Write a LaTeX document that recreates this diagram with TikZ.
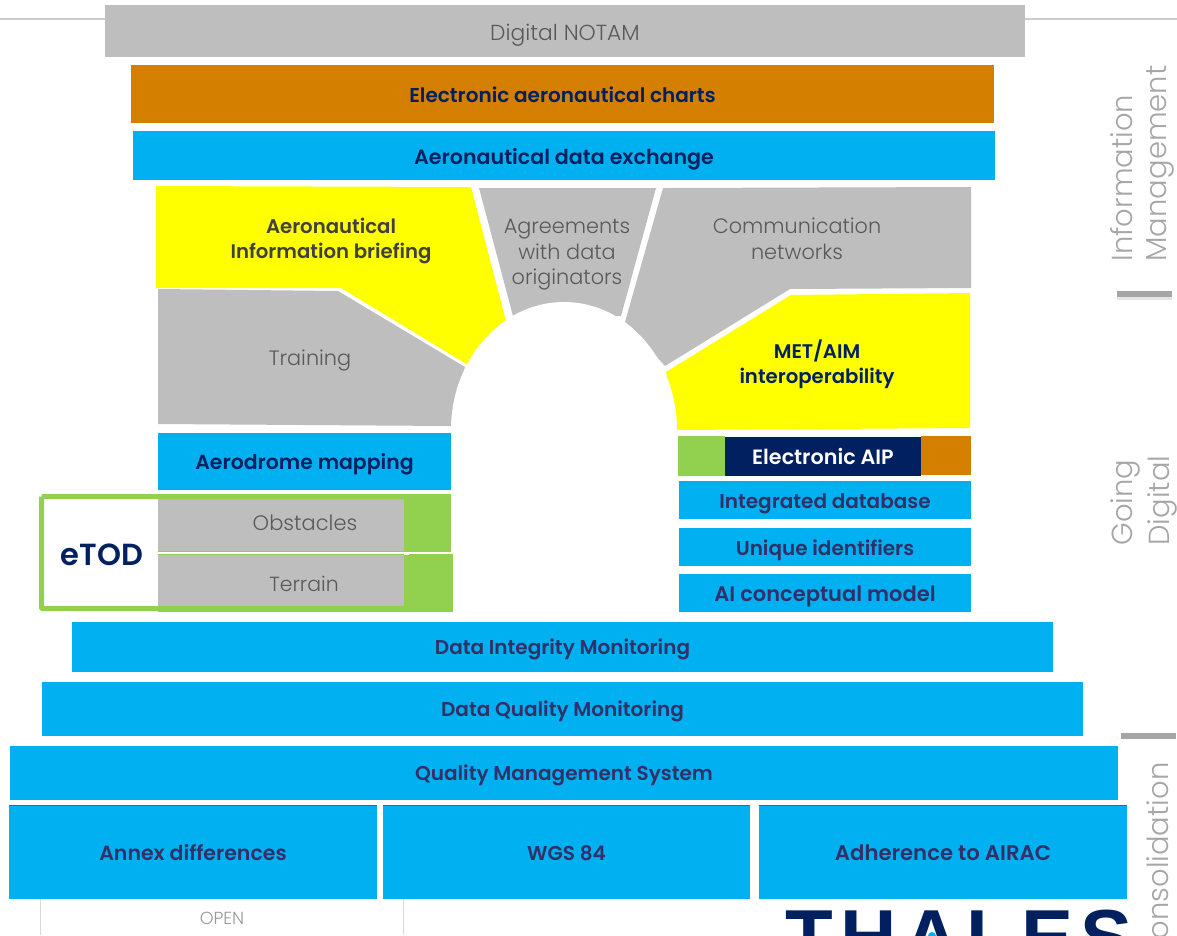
\documentclass[tikz,border=0pt]{standalone}
\usepackage{fontspec}
\setmainfont{Poppins}[UprightFont={* Light},BoldFont={* SemiBold}]
\newfontfamily\logofont{Liberation Sans}[Scale=1]
\definecolor{cblue}{HTML}{00B0F0}
\definecolor{corange}{HTML}{D57F00}
\definecolor{cgrey}{HTML}{BEBEBE}
\definecolor{cyel}{HTML}{FFFF00}
\definecolor{cgreen}{HTML}{92D050}
\definecolor{cnavy}{HTML}{002060}
\definecolor{cpurple}{HTML}{323068}
\definecolor{ctext}{HTML}{595959}
\definecolor{cdark}{HTML}{404040}
\definecolor{cside}{HTML}{A6A6A6}
\newcommand\fs[1]{\fontsize{#1}{#1}\selectfont}
\newcommand\dn[2]{\raisebox{0pt}[\dimexpr\height+#1pt+#1pt\relax]{#2}}
\tikzset{
  box/.style={inner sep=0pt,outer sep=0pt,align=center,anchor=center},
  greybox/.style={fill=cgrey,text=ctext,font=\fs{20}},
  bluebox/.style={fill=cblue,text=cpurple,font=\fs{20}\bfseries},
  navybox/.style={fill=cblue,text=cnavy,font=\fs{20}\bfseries},
  greenbox/.style={fill=cgreen},
  greylabel/.style={text=ctext,align=center,font=\fontsize{20.8}{25.5}\selectfont},
  boldlabel/.style={align=center,font=\fontsize{19.7}{25}\selectfont\bfseries},
  sidelabel/.style={text=cside,rotate=90,anchor=west,font=\fs{29}},
  sidebar/.style={fill=cside},
  sideshadow/.style={fill=black!10},
  rule/.style={draw=black!15,line width=1pt},
  topedge/.style={draw=cpurple!80,line width=0.8pt}
}
\newcommand\bx[7]{\pgfmathsetmacro\bw{#5-#3}\pgfmathsetmacro\bh{#6-#4}%
  \node[box,#2,minimum width=\bw pt,minimum height=\bh pt] (#1) at ({(#3+#5)/2},{(#4+#6)/2}) {#7};}
\begin{document}
\begin{tikzpicture}[x=1pt,y=-1pt]
\useasboundingbox (0,0) rectangle (1177,935);
\clip (0,0) rectangle (1177,935);
\fill[white] (0,0) rectangle (1177,935);
% top rules
\draw[black!20,line width=1.5pt] (0,19) -- (1177,19);
\bx{notam}{greybox,font=\fs{21.8}}{105}{5}{1025}{57}{\dn{4}{Digital NOTAM}}
\bx{charts}{navybox,fill=corange}{131}{65}{994}{123}{\dn{1}{Electronic aeronautical charts}}
\bx{exchange}{navybox,font=\fs{20.6}\bfseries}{133}{131}{995}{180}{\dn{4}{Aeronautical data exchange}}
% arch pieces
\fill[cyel] (156,186) -- (471,187) -- (506,321) -- (468,365) -- (341,288) -- (156,288) -- cycle;
\fill[cgrey] (158,289) -- (338,291) -- (465,367) -- (451,426) -- (158,424) -- cycle;
\fill[cgrey] (479,188) -- (656,188) -- (621,316) -- (513,316) -- cycle;
\fill[cgrey] (663,188) -- (971,187) -- (971,288) -- (790,289) -- (665,366) -- (625,322) -- cycle;
\fill[cyel] (791,295) -- (970,293) -- (970,428) -- (677,430) -- (666,372) -- cycle;
\fill[white] (451,430) .. controls (451,359.3) and (501.6,302) .. (564,302) .. controls (626.4,302) and (677,359.3) .. (677,430) -- cycle;
\node[boldlabel,text=cdark] (briefing) at (331,241) {Aeronautical\\Information briefing};
\node[greylabel] (training) at (310,360) {Training};
\node[greylabel] (agreements) at (567,255) {Agreements\\with data\\originators};
\node[greylabel] (comm) at (797,239) {Communication\\networks};
\node[boldlabel,text=cnavy] (met) at (817,364) {MET/AIM\\interoperability};
% left column
\bx{aerodrome}{navybox,font=\fs{20.4}\bfseries}{158}{433}{451}{490}{\dn{3}{Aerodrome mapping}}
\bx{greenA}{greenbox}{158}{494}{451}{552}{}
\bx{greenB}{greenbox}{158}{554}{453}{612}{}
\bx{obstaclesbox}{fill=cgrey}{158}{499}{404}{551}{}
\bx{terrainbox}{fill=cgrey}{158}{555}{404}{606}{}
\draw[cgreen,line width=5pt,rounded corners=1pt] (41.5,496.5) -- (406,496.5) (406,608.5) -- (41.5,608.5) -- (41.5,496.5);
\fill[cgreen] (404,499) rectangle (409,552);
\fill[cgreen] (404,554) rectangle (409,606);
\fill[white] (404,551.5) rectangle (409,554.5);
\node[greylabel,font=\fs{21}] (obstacles) at (305,523) {Obstacles};
\node[greylabel,font=\fs{20.4}] (terrain) at (304,584) {Terrain};
\node[text=cnavy,font=\fs{30.5}\bfseries] (etod) at (102,555) {eTOD};
% right column
\bx{aipG}{greenbox}{678}{436}{725}{476}{}
\bx{aipO}{greenbox,fill=corange}{921}{436}{971}{475}{}
\bx{aip}{fill=cnavy,text=white,font=\fs{20.7}\bfseries}{725}{437}{921}{476}{Electronic AIP}
\bx{integrated}{bluebox}{679}{481}{971}{519}{\dn{4}{Integrated database}}
\bx{unique}{bluebox}{679}{528}{971}{566}{\dn{3}{Unique identifiers}}
\bx{conceptual}{bluebox,font=\fs{21}\bfseries}{679}{574}{971}{612}{\dn{3.5}{AI conceptual model}}
% base
\bx{integrity}{bluebox}{72}{622}{1053}{672}{\dn{2}{Data Integrity Monitoring}}
\bx{quality}{bluebox}{42}{682}{1083}{736}{\dn{2}{Data Quality Monitoring}}
\bx{qms}{bluebox}{10}{746}{1118}{800}{\dn{2}{Quality Management System}}
\bx{annex}{bluebox,font=\fs{20.5}\bfseries}{9}{805}{377}{899}{\dn{1}{Annex differences}}
\bx{wgs}{bluebox}{383}{805}{750}{899}{\dn{1}{WGS 84}}
\bx{airac}{bluebox,font=\fs{21.2}\bfseries}{759}{805}{1127}{899}{\dn{1}{Adherence to AIRAC}}
\draw[topedge] (annex.north west) -- (annex.north east);
\draw[topedge] (wgs.north west) -- (wgs.north east);
\draw[topedge] (airac.north west) -- (airac.north east);
% footer
\draw[rule] (40,899) -- (40,935);
\draw[rule] (403,899) -- (403,935);
\node[text=black!40,font=\fs{17.5}] (open) at (222,918) {OPEN};
\node[text=cnavy,font=\logofont\bfseries\fontsize{78}{80}\selectfont,anchor=north,inner sep=0pt] (logo) at (959,910) {\addfontfeature{LetterSpace=9}THALES};
\fill[cblue] (932,936) circle (4);
% side labels
\node[sidelabel] (info) at (1122,265) {Information};
\node[sidelabel] (mgmt) at (1160,265) {Management};
\node[sidelabel] (going) at (1125,549) {Going};
\node[sidelabel] (digital) at (1162,549) {Digital};
\node[sidelabel,anchor=east] (consol) at (1158,759) {Consolidation};
\fill[sideshadow] (1117,297) rectangle (1172,300);
\fill[sidebar] (1117,291) rectangle (1172,297);
\fill[sidebar] (1121,733) rectangle (1176,739);
\end{tikzpicture}
\end{document}
